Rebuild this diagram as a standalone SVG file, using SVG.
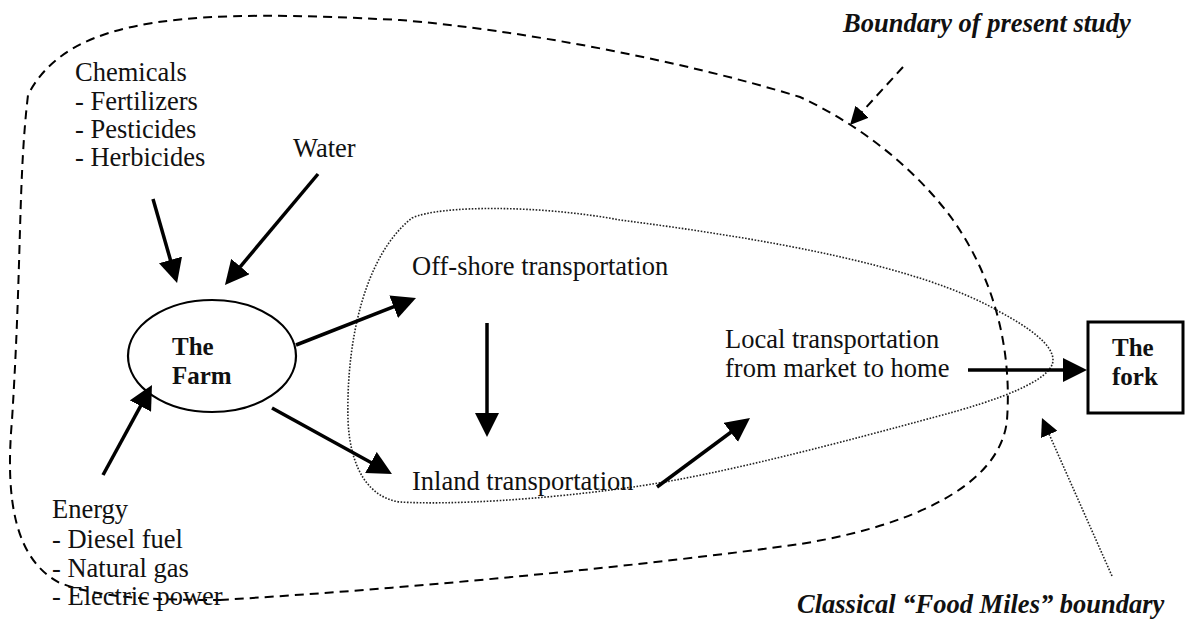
<svg xmlns="http://www.w3.org/2000/svg" width="1186" height="626" viewBox="0 0 1186 626">
<style>
text{font-family:"Liberation Serif","Times New Roman",serif;font-size:26.5px;fill:#111}
.b{font-weight:bold;font-size:25px}
.bi{font-weight:bold;font-style:italic;font-size:26.5px}
.arr{stroke:#000;stroke-width:3.5;fill:none;marker-end:url(#head)}
.dash{stroke:#000;stroke-width:2;fill:none;stroke-dasharray:9 6}
.dot{stroke:#222;stroke-width:1.6;fill:none;stroke-dasharray:1.6 1.6}
</style>
<defs>
<marker id="head" viewBox="0 0 24 24" refX="14" refY="12" markerWidth="24" markerHeight="24" markerUnits="userSpaceOnUse" orient="auto">
<path d="M0,0 L24,12 L0,24 z" fill="#000"/>
</marker>
<marker id="small" viewBox="0 0 18 18" refX="10" refY="9" markerWidth="18" markerHeight="18" markerUnits="userSpaceOnUse" orient="auto">
<path d="M0,0 L18,9 L0,18 z" fill="#000"/>
</marker>
</defs>
<rect width="1186" height="626" fill="#fff"/>
<g id="boundaries">
<path id="present-study" class="dash" d="M220,600 C420,588 650,565 800,544 C900,528 1000,490 1007,420 C1012,350 995,280 953,220 C915,168 860,125 800,97 C680,60 520,30 400,20 C200,10 70,12 28,95 C18,180 22,260 12,420 C5,500 15,560 60,583 C100,598 150,600 220,600 Z"/>
<path id="food-miles" class="dot" d="M412,218 C440,205 540,205 620,220 C760,238 920,265 1000,312 C1030,328 1053,345 1053,360 C1053,380 1000,400 935,417 C850,440 720,475 633,487 C540,500 450,505 400,502 C370,498 350,470 348,420 C346,340 365,255 412,218 Z"/>
</g>
<g id="connectors">
<line class="arr" x1="153" y1="199" x2="174.3" y2="273.4"/>
<line class="arr" x1="318" y1="174" x2="231.4" y2="277.3"/>
<line class="arr" x1="103" y1="475" x2="147.2" y2="393.8"/>
<line class="arr" x1="296" y1="345" x2="406.7" y2="301.6"/>
<line class="arr" x1="272" y1="408" x2="383.2" y2="469.2"/>
<line class="arr" x1="487" y1="323" x2="487" y2="427"/>
<line class="arr" x1="657" y1="487" x2="742" y2="424"/>
<line class="arr" x1="968" y1="370" x2="1077" y2="370"/>
<line class="dash" x1="903" y1="67" x2="855.4" y2="119.1" marker-end="url(#small)"/>
<line class="dot" x1="1112" y1="576" x2="1045.2" y2="425.3" marker-end="url(#small)"/>
</g>
<g id="chemicals">
<text x="75" y="81">Chemicals</text>
<text x="75" y="110">- Fertilizers</text>
<text x="75" y="138">- Pesticides</text>
<text x="75" y="166">- Herbicides</text>
</g>
<g id="water"><text x="293" y="157">Water</text></g>
<g id="energy">
<text x="52" y="518">Energy</text>
<text x="52" y="548">- Diesel fuel</text>
<text x="52" y="577">- Natural gas</text>
<text x="52" y="605">- Electric power</text>
</g>
<g id="farm">
<ellipse cx="212" cy="356" rx="84" ry="56" fill="none" stroke="#000" stroke-width="2.2"/>
<text class="b" x="172" y="355">The</text>
<text class="b" x="172" y="384">Farm</text>
</g>
<g id="offshore"><text x="412" y="275">Off-shore transportation</text></g>
<g id="inland"><text x="412" y="490">Inland transportation</text></g>
<g id="local">
<text x="725" y="348">Local transportation</text>
<text x="725" y="377">from market to home</text>
</g>
<g id="fork">
<rect x="1088" y="322" width="95" height="91" fill="#fff" stroke="#000" stroke-width="3"/>
<text class="b" x="1112" y="356">The</text>
<text class="b" x="1112" y="385">fork</text>
</g>
<g id="labels">
<text class="bi" x="843" y="32">Boundary of present study</text>
<text class="bi" x="797" y="613">Classical “Food Miles” boundary</text>
</g>
</svg>
